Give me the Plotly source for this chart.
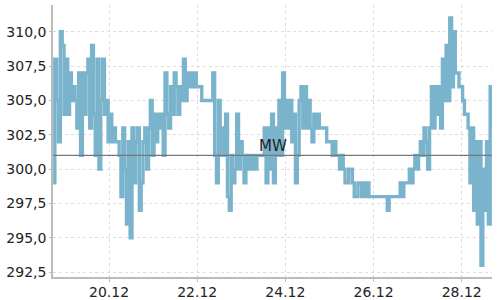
import pandas as pd
import plotly.graph_objects as go

# Hourly readings, starting 18.12. 17:30
start_time = "2023-12-18 17:30"
values = [
    299, 308, 305, 302, 310, 309, 304, 308, 304, 307, 305, 306,
    305, 303, 307, 301, 307, 304, 307, 308, 303, 309, 304, 301,
    308, 300, 305, 308, 304, 305, 302, 304, 302, 303, 302, 302,
    301, 298, 303, 300, 296, 302, 295, 303, 299, 302, 303, 297,
    299, 302, 303, 300, 303, 305, 301, 304, 302, 304, 303, 304,
    301, 307, 304, 303, 306, 304, 307, 306, 304, 306, 305, 308,
    305, 307, 306, 307, 306, 307, 306, 306, 306, 305, 305, 305,
    305, 305, 305, 307, 301, 299, 305, 301, 303, 301, 304, 298,
    297, 301, 299, 300, 304, 300, 302, 301, 299, 301, 300, 301,
    300, 301, 300, 301, 301, 301, 301, 303, 299, 303, 300, 304,
    299, 303, 301, 305, 301, 307, 303, 305, 303, 305, 302, 304,
    299, 301, 305, 306, 303, 306, 303, 305, 303, 302, 304, 303,
    304, 303, 303, 303, 303, 302, 302, 302, 301, 302, 301, 301,
    300, 301, 300, 299, 299, 300, 300, 299, 298, 298, 299, 299,
    298, 299, 298, 299, 298, 298, 298, 298, 298, 298, 298, 298,
    298, 298, 297, 298, 298, 298, 298, 298, 298, 299, 298, 299,
    299, 299, 300, 299, 300, 301, 300, 301, 302, 301, 303, 302,
    300, 303, 306, 303, 306, 304, 306, 303, 308, 305, 309, 305,
    311, 306, 310, 307, 307, 306, 306, 305, 304, 304, 303, 299,
    303, 297, 302, 296, 302, 293, 300, 297, 302, 296, 306, 303,
]
times = pd.date_range(start_time, periods=len(values), freq="h")

mean_value = 301.0          # "MW" reference line
mean_label = "MW"
y_ticks = [292.5, 295.0, 297.5, 300.0, 302.5, 305.0, 307.5, 310.0]
y_range = [292.15, 311.95]
x_tick0 = "2023-12-20"

line_color = "#7ab4cc"
font_family = "DejaVu Sans"

fig = go.Figure()
fig.add_trace(go.Scatter(
    x=times, y=values, mode="lines",
    line=dict(color=line_color, width=3.4, shape="hv"),
    hoverinfo="skip", showlegend=False,
))

fig.add_shape(
    type="line", xref="x domain", yref="y",
    x0=0, x1=1, y0=mean_value, y1=mean_value,
    line=dict(color="#777777", width=1.2), layer="above",
)
fig.add_annotation(
    text=mean_label, xref="paper", yref="y", x=0.5, y=mean_value,
    xanchor="center", yanchor="bottom", showarrow=False, yshift=-2,
    font=dict(family=font_family, size=15, color="#222222"),
)

fig.update_layout(
    width=500, height=300,
    margin=dict(l=53, r=8, t=5, b=23),
    paper_bgcolor="white", plot_bgcolor="white",
    separators=",.",
    font=dict(family=font_family, size=14, color="#222222"),
)
fig.update_xaxes(
    range=[times[0], times[-1]], automargin=False,
    type="date", tick0=x_tick0, dtick=2 * 86400000, tickformat="%d.%m",
    showline=True, linecolor="#bbbbbb", linewidth=1.5,
    ticks="outside", ticklen=3, tickcolor="#bbbbbb",
    ticklabelstandoff=-2,
    showgrid=True, gridcolor="#dddddd", griddash="3px,3px", gridwidth=1,
    zeroline=False, tickfont=dict(size=14, color="#222222"),
)
fig.update_yaxes(
    range=y_range, tickvals=y_ticks, tickformat=".1f", automargin=False,
    showline=True, linecolor="#bbbbbb", linewidth=1.5,
    ticks="outside", ticklen=2, tickcolor="#bbbbbb",
    showgrid=True, gridcolor="#dddddd", griddash="3px,3px", gridwidth=1,
    zeroline=False, tickfont=dict(size=14, color="#222222"),
)

fig.write_html("out.html")
